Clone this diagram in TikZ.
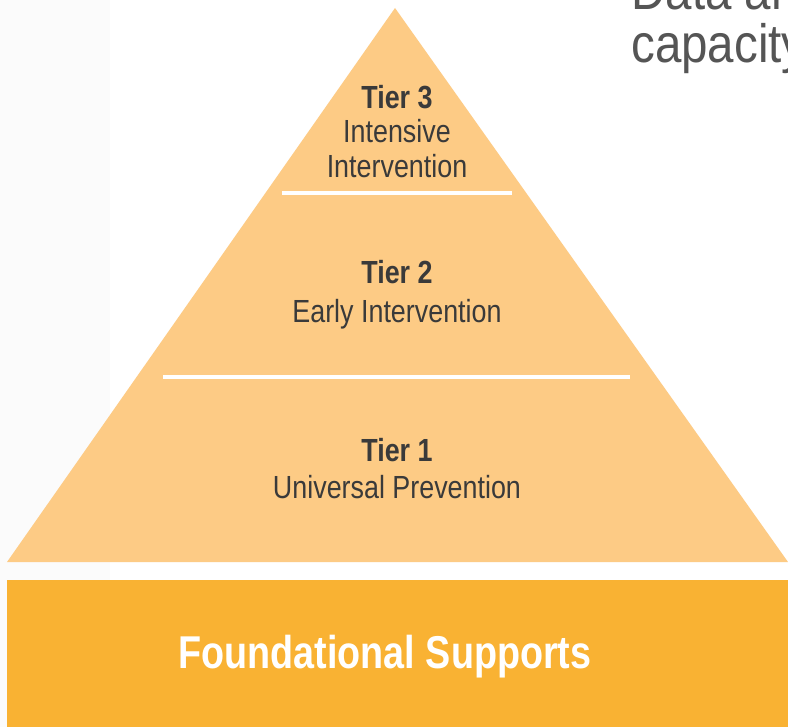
\documentclass[tikz,border=0pt]{standalone}
\usepackage{fontspec}
\setmainfont{Liberation Sans}
\newfontfamily\tierfont[FakeStretch=0.84]{Liberation Sans}
\newfontfamily\basefont[FakeStretch=0.82]{Liberation Sans}
\newfontfamily\notefont[FakeStretch=0.88]{Liberation Sans}
\definecolor{tierorange}{RGB}{253, 203, 133}
\definecolor{baseorange}{RGB}{249, 178, 51}
\definecolor{tiertext}{RGB}{58, 58, 58}
\definecolor{notegray}{RGB}{85, 85, 85}
\definecolor{stripgray}{RGB}{251, 251, 251}
\tikzstyle{tiername} = [anchor=base, text=tiertext, inner sep=0pt,
    font=\tierfont\fontsize{24}{26}\selectfont\bfseries]
\tikzstyle{tierdesc} = [anchor=base, text=tiertext, inner sep=0pt,
    font=\tierfont\fontsize{24}{26}\selectfont]
\tikzstyle{basetext} = [anchor=base, text=white, inner sep=0pt,
    font=\basefont\fontsize{34.5}{36}\selectfont\bfseries]
\tikzstyle{note} = [anchor=base west, text=notegray, inner sep=0pt,
    font=\notefont\fontsize{40.5}{42}\selectfont]
\tikzstyle{divider} = [draw=white, line width=2.3pt]

\begin{document}
\begin{tikzpicture}[x=0.75pt, y=-0.75pt]
  \useasboundingbox (0,0) rectangle (788,727);
  \clip (0,0) rectangle (788,727);
  \fill [white] (0,0) rectangle (788,727);
  \fill [stripgray] (0,0) rectangle (110,727);
  % pyramid
  \fill [tierorange] (395,8) -- (788,562) -- (7,562) -- cycle;
  \draw [divider] (282,193) -- (512,193);
  \draw [divider] (163,377) -- (630,377);
  \node [tiername] (tier3) at (397,109) {Tier 3};
  \node [tierdesc] (tier3_top) at (397,143) {Intensive};
  \node [tierdesc] (tier3_bottom) at (397,178) {Intervention};
  \node [tiername] (tier2) at (397,283) {Tier 2};
  \node [tierdesc] (tier2_name) at (397,322) {Early Intervention};
  \node [tiername] (tier1) at (397,461) {Tier 1};
  \node [tierdesc] (tier1_name) at (397,498) {Universal Prevention};
  % foundation bar
  \fill [baseorange] (7,580) rectangle (788,727);
  \node [basetext] (foundation) at (385,668) {Foundational Supports};
  % cut off note
  \node [note] (note_top) at (631,10) {Data and};
  \node [note] (note_bottom) at (631,63) {capacity};
\end{tikzpicture}
\end{document}
